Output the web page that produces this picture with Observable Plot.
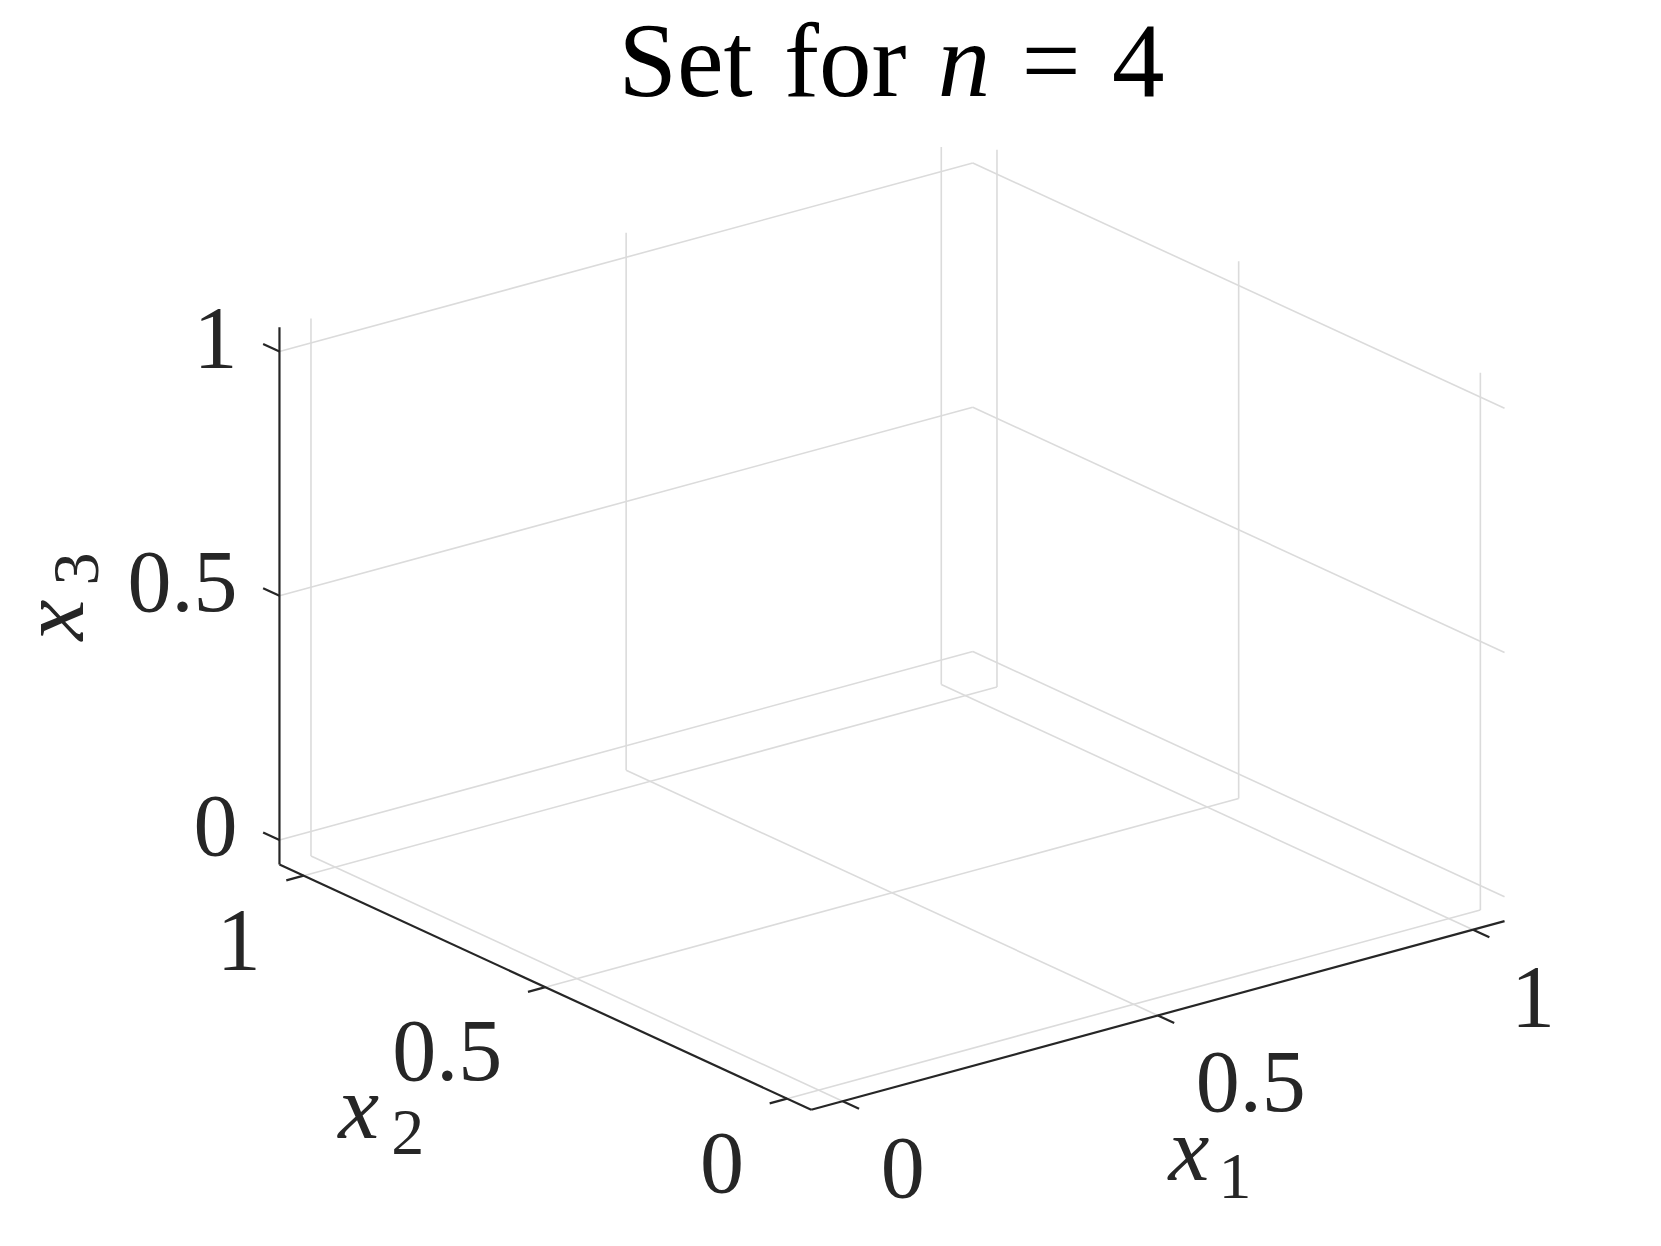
<!DOCTYPE html>
<html>
<head>
<meta charset="utf-8">
<script src="https://cdn.jsdelivr.net/npm/d3@7"></script>
<script src="https://cdn.jsdelivr.net/npm/@observablehq/plot@0.6"></script>
<style>
  body { margin: 0; background: #fff; }
  #title {
    height: 130px; box-sizing: border-box; padding-top: 0; padding-left: 122px;
    text-align: center; font-family: "Liberation Serif", serif; font-size: 105px;
    line-height: normal; color: #000; white-space: pre; word-spacing: 5px;
  }
  #chart svg { display: block; }
</style>
</head>
<body>
<div id="title">Set for <i>n</i> = 4</div>
<div id="chart"></div>
<script>
// ---- data ----
const x1Ticks = [0, 0.5, 1];
const x2Ticks = [0, 0.5, 1];
const x3Ticks = [0, 0.5, 1];
const x1TickLabels = ["0", "0.5", "1"];
const x2TickLabels = ["0", "0.5", "1"];
const x3TickLabels = ["0", "0.5", "1"];
const x1Limits = [-0.05, 1.05];
const x2Limits = [-0.05, 1.05];
const x3Limits = [-0.05, 1.05];
const axisSymbols = ["x", "x", "x"];
const axisSubscripts = ["1", "2", "3"];

// ---- view (affine 3D -> page projection, stretched MATLAB default view) ----
const view = {origin: [818.05, 1065.15], e1: [630.3, -171.5], e2: [-483.4, -223.0], e3: [0, -488.5]};
const titleHeight = 130, W = 1661, H = 1246 - titleHeight;
function proj(p) {
  return [
    view.origin[0] + p[0] * view.e1[0] + p[1] * view.e2[0] + p[2] * view.e3[0],
    view.origin[1] + p[0] * view.e1[1] + p[1] * view.e2[1] + p[2] * view.e3[1]
  ];
}
function unit(v) { const l = Math.hypot(v[0], v[1]); return [v[0] / l, v[1] / l]; }
function seg(p, q) { const P = proj(p), Q = proj(q); return {x1: P[0], y1: P[1], x2: Q[0], y2: Q[1]}; }

const [a0, a1] = x1Limits, [b0, b1] = x2Limits, [c0, c1] = x3Limits;

const grid = [
  ...x1Ticks.map(t => seg([t, b1, c0], [t, b1, c1])),
  ...x3Ticks.map(t => seg([a0, b1, t], [a1, b1, t])),
  ...x2Ticks.map(t => seg([a1, t, c0], [a1, t, c1])),
  ...x3Ticks.map(t => seg([a1, b0, t], [a1, b1, t])),
  ...x1Ticks.map(t => seg([t, b0, c0], [t, b1, c0])),
  ...x2Ticks.map(t => seg([a0, t, c0], [a1, t, c0]))
];
const axesLines = [
  seg([a0, b0, c0], [a1, b0, c0]),
  seg([a0, b0, c0], [a0, b1, c0]),
  seg([a0, b1, c0], [a0, b1, c1])
];

const tickLen = 18;
const u1 = unit(view.e1), u2 = unit(view.e2);
function tickSeg(p, dir) { const P = proj(p); return {x1: P[0], y1: P[1], x2: P[0] + dir[0] * tickLen, y2: P[1] + dir[1] * tickLen}; }
const ticks = [
  ...x1Ticks.map(t => tickSeg([t, b0, c0], [-u2[0], -u2[1]])),
  ...x2Ticks.map(t => tickSeg([a0, t, c0], [-u1[0], -u1[1]])),
  ...x3Ticks.map(t => tickSeg([a0, b1, t], u2))
];

const lab1 = x1Ticks.map((t, i) => { const P = proj([t, b0, c0]); return {x: P[0] + 38, y: P[1] + 96, text: x1TickLabels[i]}; });
const lab2 = x2Ticks.map((t, i) => { const P = proj([a0, t, c0]); return {x: P[0] - 43, y: P[1] + 93, text: x2TickLabels[i]}; });
const lab3 = x3Ticks.map((t, i) => { const P = proj([a0, b1, t]); return {x: P[0] - 42, y: P[1] + 15, text: x3TickLabels[i]}; });

const m1 = proj([(a0 + a1) / 2, b0, c0]);
const m2 = proj([a0, (b0 + b1) / 2, c0]);
const m3 = proj([a0, b1, (c0 + c1) / 2]);
const name1 = {x: m1[0] + 10.6, y: m1[1] + 165};
const name2 = {x: m2[0] - 207, y: m2[1] + 151};
const name3 = {x: m3[0] - 196, y: m3[1] + 44.6};
const horizNames = [
  {x: name1.x, y: name1.y, text: axisSymbols[0]},
  {x: name2.x, y: name2.y, text: axisSymbols[1]}
];
const horizSubs = [
  {x: name1.x + 50, y: name1.y + 18, text: axisSubscripts[0]},
  {x: name2.x + 53, y: name2.y + 16, text: axisSubscripts[1]}
];

const font = "Liberation Serif";
const ink = "#262626";

const chart = Plot.plot({
  width: W,
  height: H,
  margin: 0,
  x: {domain: [0, W], range: [0, W]},
  y: {domain: [titleHeight, titleHeight + H], range: [0, H]},
  axis: null,
  style: {background: "#fff"},
  marks: [
    Plot.link(grid, {x1: "x1", y1: "y1", x2: "x2", y2: "y2", stroke: "#dbdbdb", strokeWidth: 1.6}),
    Plot.link(axesLines, {x1: "x1", y1: "y1", x2: "x2", y2: "y2", stroke: ink, strokeWidth: 2.2}),
    Plot.link(ticks, {x1: "x1", y1: "y1", x2: "x2", y2: "y2", stroke: ink, strokeWidth: 2.2}),
    Plot.text(lab1, {x: "x", y: "y", text: "text", textAnchor: "start", lineAnchor: "bottom", fontSize: 88, fontFamily: font, fill: ink}),
    Plot.text(lab2, {x: "x", y: "y", text: "text", textAnchor: "end", lineAnchor: "bottom", fontSize: 88, fontFamily: font, fill: ink}),
    Plot.text(lab3, {x: "x", y: "y", text: "text", textAnchor: "end", lineAnchor: "bottom", fontSize: 88, fontFamily: font, fill: ink}),
    Plot.text(horizNames, {x: "x", y: "y", text: "text", textAnchor: "start", lineAnchor: "bottom", fontSize: 92, fontStyle: "italic", fontFamily: font, fill: ink}),
    Plot.text(horizSubs, {x: "x", y: "y", text: "text", textAnchor: "start", lineAnchor: "bottom", fontSize: 66, fontFamily: font, fill: ink}),
    Plot.text([{x: name3.x, y: name3.y, text: axisSymbols[2]}], {x: "x", y: "y", text: "text", rotate: -90, textAnchor: "start", lineAnchor: "bottom", fontSize: 92, fontStyle: "italic", fontFamily: font, fill: ink}),
    Plot.text([{x: name3.x + 15, y: name3.y - 55, text: axisSubscripts[2]}], {x: "x", y: "y", text: "text", rotate: -90, textAnchor: "start", lineAnchor: "bottom", fontSize: 66, fontFamily: font, fill: ink})
  ]
});
document.getElementById("chart").appendChild(chart);
</script>
</body>
</html>
